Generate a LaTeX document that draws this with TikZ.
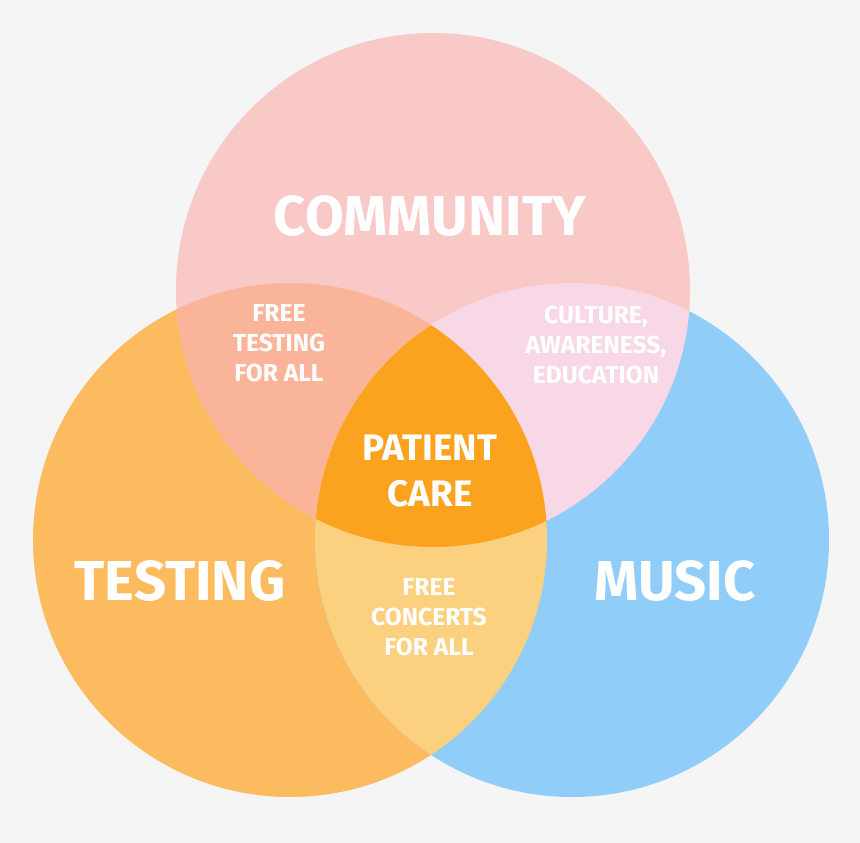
\documentclass[tikz,border=0pt]{standalone}
\usepackage{fontspec}
\setmainfont{Fira Sans}
\definecolor{bgcol}{HTML}{F5F5F5}
\definecolor{commcol}{HTML}{F8C9C7}
\definecolor{testcol}{HTML}{FBBB5E}
\definecolor{musiccol}{HTML}{90CDF8}
\definecolor{ctcol}{HTML}{F9B49A}
\definecolor{cmcol}{HTML}{F8D8E6}
\definecolor{tmcol}{HTML}{FBD07E}
\definecolor{allcol}{HTML}{FBA31F}
\tikzset{
  big/.style={text=white, font=\fontsize{32}{34}\selectfont\bfseries},
  small/.style={text=white, align=center, font=\fontsize{14}{17}\selectfont\bfseries},
  mid/.style={text=white, align=center, font=\fontsize{21}{26}\selectfont\bfseries}
}
\begin{document}
\begin{tikzpicture}[x=0.02cm, y=0.02cm]
  % Background
  \fill[bgcol] (0,0) rectangle (860,843);
  \useasboundingbox (0,0) rectangle (860,843);
  % Circles
  \def\comm{(433,553) circle (257)}
  \def\test{(290,303) circle (257)}
  \def\music{(572,303) circle (257)}
  \fill[testcol] \test;
  \fill[musiccol] \music;
  \fill[commcol] \comm;
  \begin{scope}
    \clip \comm;
    \fill[ctcol] \test;
    \fill[cmcol] \music;
  \end{scope}
  \begin{scope}
    \clip \test;
    \fill[tmcol] \music;
  \end{scope}
  \begin{scope}
    \clip \comm;
    \clip \test;
    \fill[allcol] \music;
  \end{scope}
  % Labels
  \node (community) [big] at (430,627) {COMMUNITY};
  \node (testing) [big] at (180,262) {TESTING};
  \node (music) [big] at (675,262) {MUSIC};
  \node (freetest) [small] at (279,500) {FREE\\TESTING\\FOR ALL};
  \node (culture) [small] at (596,498) {CULTURE,\\AWARENESS,\\EDUCATION};
  \node (concerts) [small] at (429,226) {FREE\\CONCERTS\\FOR ALL};
  \node (care) [mid] at (430,372) {PATIENT\\CARE};
\end{tikzpicture}
\end{document}
